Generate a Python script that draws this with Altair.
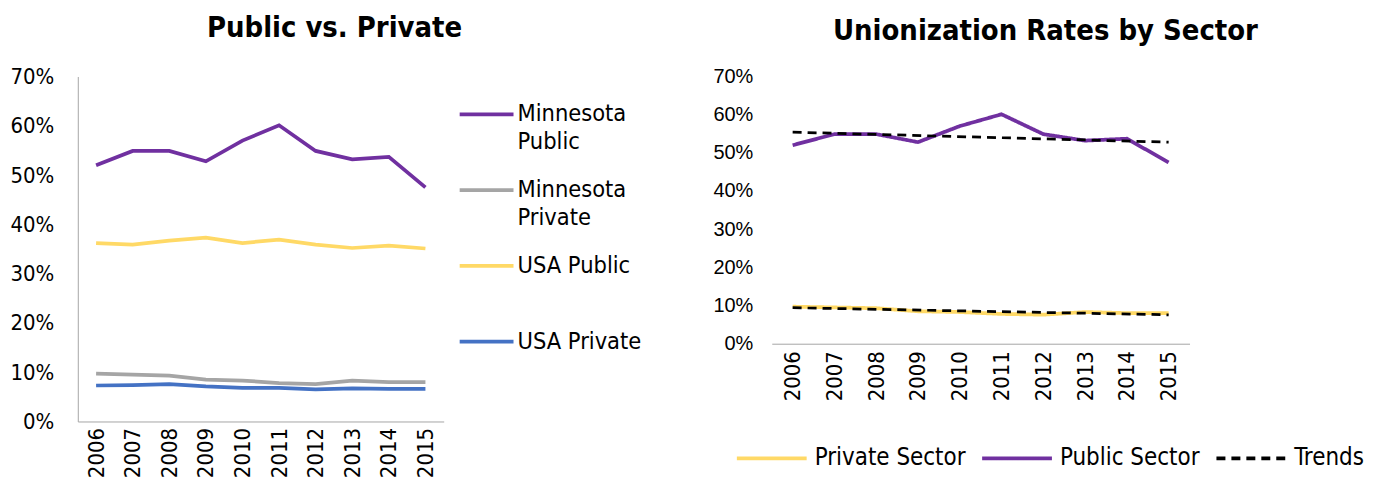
import altair as alt
import pandas as pd

years = ["2006", "2007", "2008", "2009", "2010", "2011", "2012", "2013", "2014", "2015"]
mn_public = [0.520, 0.549, 0.549, 0.528, 0.570, 0.601, 0.549, 0.532, 0.537, 0.475]
mn_private = [0.097, 0.095, 0.093, 0.085, 0.083, 0.078, 0.076, 0.083, 0.080, 0.080]
usa_public = [0.362, 0.359, 0.367, 0.373, 0.362, 0.369, 0.359, 0.352, 0.357, 0.351]
usa_private = [0.073, 0.074, 0.076, 0.071, 0.068, 0.068, 0.065, 0.067, 0.066, 0.066]
y_ticks = [0, 0.1, 0.2, 0.3, 0.4, 0.5, 0.6, 0.7]

left_series = ["Minnesota Public", "Minnesota Private", "USA Public", "USA Private"]
left_colors = ["#7030A0", "#A5A5A5", "#FFD966", "#4472C4"]
right_series = ["Private Sector", "Public Sector", "Trends"]
right_colors = ["#FFD966", "#7030A0", "#000000"]

FONT = "DejaVu Sans Condensed, DejaVu Sans"
NARROW = "Liberation Sans Narrow, Liberation Sans"
DOMAIN = "#a6a6a6"

left_rows = []
for name, vals in zip(left_series, [mn_public, mn_private, usa_public, usa_private]):
    for y, v in zip(years, vals):
        left_rows.append({"year": y, "value": v, "series": name})
left_df = pd.DataFrame(left_rows)

right_rows = []
for name, vals in zip(["Private Sector", "Public Sector"], [mn_private, mn_public]):
    for y, v in zip(years, vals):
        right_rows.append({"year": y, "yi": int(y), "value": v, "series": name, "sector": name})
right_df = pd.DataFrame(right_rows)

left = alt.Chart(left_df).mark_line(strokeWidth=3.75).encode(
    x=alt.X("year:O", title=None, scale=alt.Scale(type="point", padding=0.5),
            axis=alt.Axis(labelAngle=270, labelFont=FONT, labelFontSize=22, labelColor="#000",
                          ticks=False, domainColor=DOMAIN, labelPadding=6)),
    y=alt.Y("value:Q", title=None, scale=alt.Scale(domain=[0, 0.7]),
            axis=alt.Axis(format=".0%", values=y_ticks, grid=False, ticks=False,
                          labelFont=FONT, labelFontSize=22, labelColor="#000", domainColor=DOMAIN,
                          labelPadding=24)),
    color=alt.Color("series:N", scale=alt.Scale(domain=left_series, range=left_colors),
                    legend=alt.Legend(title=None, orient="none", legendX=381, legendY=9,
                                      symbolType="stroke",
                                      symbolSize=2916, symbolStrokeWidth=3.75,
                                      labelFont=FONT, labelFontSize=23.5, labelColor="#000",
                                      labelExpr="datum.label == 'Minnesota Public' ? ['Minnesota','Public'] : datum.label == 'Minnesota Private' ? ['Minnesota','Private'] : datum.label",
                                      gridAlign="all", rowPadding=7, labelOffset=2)),
).properties(width=367, height=346,
             title=alt.Title("Public vs. Private", font=FONT, fontSize=29, fontWeight="bold",
                             color="#000", offset=23, frame="group", dx=74))

base = alt.Chart(right_df)
color_scale = alt.Scale(domain=right_series, range=right_colors)
dash_scale = alt.Scale(domain=right_series, range=[[1, 0], [1, 0], [9, 6]])
legend_r = alt.Legend(title=None, orient="none", legendX=-37, legendY=346, direction="horizontal",
                      symbolType="stroke", symbolSize=4900, symbolStrokeWidth=3.75,
                      labelFont=FONT, labelFontSize=24, labelColor="#000",
                      columnPadding=8, labelOffset=6)

xr = alt.X("year:O", title=None, scale=alt.Scale(type="point", padding=0.5),
           axis=alt.Axis(labelAngle=270, labelFont=FONT, labelFontSize=22, labelColor="#000",
                         ticks=False, domainColor=DOMAIN, labelPadding=7))
yr = alt.Y("value:Q", title=None, scale=alt.Scale(domain=[0, 0.7]),
           axis=alt.Axis(format=".0%", values=y_ticks, grid=False, ticks=False,
                         domain=False, labelFont=NARROW, labelFontSize=20, labelColor="#000",
                         labelPadding=19))

lines = base.mark_line(strokeWidth=3.75).encode(
    x=xr, y=yr,
    color=alt.Color("series:N", scale=color_scale, legend=legend_r),
    strokeDash=alt.StrokeDash("series:N", scale=dash_scale, legend=legend_r),
)

trend = base.transform_regression("yi", "value", groupby=["sector"]).transform_calculate(
    series="'Trends'", year="toString(datum.yi)"
).mark_line(strokeWidth=2.75).encode(
    x=xr, y=yr,
    color=alt.Color("series:N", scale=color_scale, legend=legend_r),
    strokeDash=alt.StrokeDash("series:N", scale=dash_scale, legend=legend_r),
    detail="sector:N",
)

right = alt.layer(lines, trend).properties(
    width=419, height=268,
    title=alt.Title("Unionization Rates by Sector", font=FONT, fontSize=29, fontWeight="bold",
                    color="#000", offset=21, frame="group", dx=65))

chart = alt.hconcat(left, right, spacing=70).resolve_scale(
    color="independent", strokeDash="independent"
).resolve_legend(color="independent", strokeDash="independent").properties(
    padding={"left": 2, "top": 5, "right": 5, "bottom": 0}
).configure(style={"guide-label": {"lineHeight": 28}}).configure_view(stroke=None)

chart.save("out.html", embed_options={"renderer": "svg", "actions": False})
